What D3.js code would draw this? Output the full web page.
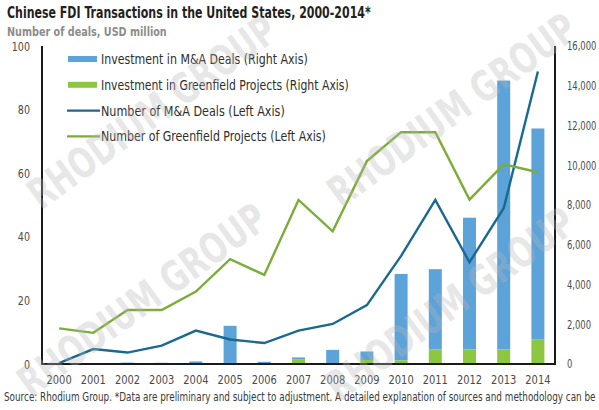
<!DOCTYPE html>
<html>
<head>
<meta charset="utf-8">
<script src="https://cdn.jsdelivr.net/npm/d3@7"></script>
<style>
  html, body { margin: 0; padding: 0; background: #fff; }
  svg { display: block; }
  text { font-family: 'Liberation Sans Narrow', 'Arial Narrow', 'DejaVu Sans Condensed', sans-serif; }
</style>
</head>
<body>
<svg id="chart" width="599" height="410"></svg>
<script>
// ---- Data ----
const years = ["2000","2001","2002","2003","2004","2005","2006","2007","2008","2009","2010","2011","2012","2013","2014"];
const maInvestment = [10, 10, 50, 40, 110, 1880, 80, 110, 680, 430, 4350, 4030, 6620, 13520, 10600];
const greenfieldInvestment = [10, 10, 20, 20, 20, 40, 30, 220, 30, 200, 180, 740, 740, 740, 1250];
const maDeals = [0.3, 4.7, 3.6, 5.8, 10.5, 7.7, 6.6, 10.5, 12.6, 18.5, 34, 51.6, 32, 49, 92];
const greenfieldProjects = [11.2, 9.8, 17, 17, 22.8, 33, 28, 51.6, 41.7, 63.8, 72.9, 72.9, 51.7, 62.8, 60.3];
const leftTicks = [0, 20, 40, 60, 80, 100];
const rightTicks = [0, 2000, 4000, 6000, 8000, 10000, 12000, 14000, 16000];
const legendItems = [
  { label: "Investment in M&A Deals (Right Axis)", type: "bar", key: "ma" },
  { label: "Investment in Greenfield Projects (Right Axis)", type: "bar", key: "gf" },
  { label: "Number of M&A Deals (Left Axis)", type: "line", key: "maLine" },
  { label: "Number of Greenfield Projects (Left Axis)", type: "line", key: "gfLine" }
];
const titleText = "Chinese FDI Transactions in the United States, 2000-2014*";
const subtitleText = "Number of deals, USD million";
const sourceText = "Source: Rhodium Group. *Data are preliminary and subject to adjustment. A detailed explanation of sources and methodology can be";
const watermarkText = "RHODIUM GROUP";

// ---- Styles ----
const colors = {
  ma: "#5ba3d9",
  gf: "#8dc640",
  maLine: "#1b6890",
  gfLine: "#7cac3a"
};

const svg = d3.select("#chart");
const plot = { left: 42, right: 555, top: 46, bottom: 364 };

const x = d3.scaleBand().domain(years).range([plot.left, plot.right]).paddingInner(0.62).paddingOuter(0.31);
const yL = d3.scaleLinear().domain([0, 100]).range([plot.bottom, plot.top]);
const yR = d3.scaleLinear().domain([0, 16000]).range([plot.bottom, plot.top]);
const cx = d => x(d) + x.bandwidth() / 2;

// Fit a text to a target width: shrink the font so its natural width matches,
// then stretch vertically back to the intended glyph height.
function fitText(node, fontSize, targetWidth, baseTransform) {
  const t = d3.select(node).attr("font-size", fontSize);
  const w = node.getComputedTextLength();
  const fs = fontSize * targetWidth / w;
  t.attr("font-size", fs)
   .attr("transform", `${baseTransform} scale(1,${fontSize / fs})`);
}

function addText(px, py, str, fontSize, width, attrs, extra) {
  const t = svg.append("text").attr("x", 0).attr("y", 0).text(str);
  Object.entries(attrs).forEach(([k, v]) => t.attr(k, v));
  fitText(t.node(), fontSize, width, `translate(${px},${py})${extra || ""}`);
  return t;
}

// Title & subtitle
addText(7, 18, titleText, 15.5, 364, { "font-weight": "bold", fill: "#231f20" });
addText(7, 36, subtitleText, 13, 160, { "font-weight": "bold", fill: "#8c8c8c" });

// Bars (stacked: greenfield bottom, M&A on top)
const barG = svg.append("g");
years.forEach((yr, i) => {
  const g0 = greenfieldInvestment[i];
  const m = maInvestment[i];
  barG.append("rect")
    .attr("x", x(yr)).attr("width", x.bandwidth())
    .attr("y", yR(g0 + m)).attr("height", yR(g0) - yR(g0 + m))
    .attr("fill", colors.ma);
  barG.append("rect")
    .attr("x", x(yr)).attr("width", x.bandwidth())
    .attr("y", yR(g0)).attr("height", yR(0) - yR(g0))
    .attr("fill", colors.gf);
});

// Lines
const lineGen = d3.line().x((d, i) => cx(years[i])).y(d => yL(d));
svg.append("path").datum(maDeals).attr("d", lineGen)
  .attr("fill", "none").attr("stroke", colors.maLine).attr("stroke-width", 2.4).attr("stroke-linejoin", "miter");
svg.append("path").datum(greenfieldProjects).attr("d", lineGen)
  .attr("fill", "none").attr("stroke", colors.gfLine).attr("stroke-width", 2.4).attr("stroke-linejoin", "miter");

// Axes
const leftAxis = d3.axisLeft(yL).tickValues(leftTicks).tickSize(0).tickPadding(12).tickFormat(d3.format("d"));
const gL = svg.append("g").attr("transform", `translate(${plot.left},0)`).call(leftAxis);
const rightAxis = d3.axisRight(yR).tickValues(rightTicks).tickSize(0).tickPadding(12).tickFormat(d3.format(","));
const gR = svg.append("g").attr("transform", `translate(${plot.right},0)`).call(rightAxis);
const bottomAxis = d3.axisBottom(x).tickSize(0).tickPadding(11);
const gB = svg.append("g").attr("transform", `translate(0,${plot.bottom})`).call(bottomAxis);
[gL, gR, gB].forEach(g => {
  g.select(".domain").remove();
  g.selectAll("text").attr("font-size", 12.5).attr("fill", "#4a4a4a")
    .attr("font-family", "'Liberation Sans Narrow', 'Arial Narrow', 'DejaVu Sans Condensed', sans-serif");
});
gL.selectAll("text").attr("x", 0).attr("transform", "translate(-12,0) scale(0.85,1)");
gB.selectAll("text").attr("y", 0).attr("transform", "translate(0,11) scale(0.88,1)");
gR.selectAll("text").attr("font-size", 12).attr("x", 0)
  .attr("transform", "translate(12,0) scale(0.78,1)");

// axis frame lines
svg.append("line").attr("x1", plot.left).attr("x2", plot.left).attr("y1", plot.top).attr("y2", plot.bottom + 1)
  .attr("stroke", "#1a1a1a").attr("stroke-width", 2);
svg.append("line").attr("x1", plot.right).attr("x2", plot.right).attr("y1", plot.top).attr("y2", plot.bottom + 1)
  .attr("stroke", "#1a1a1a").attr("stroke-width", 2);
svg.append("line").attr("x1", plot.left - 1).attr("x2", plot.right + 1).attr("y1", plot.bottom).attr("y2", plot.bottom)
  .attr("stroke", "#1a1a1a").attr("stroke-width", 2);

// Legend
const legendWidths = [207, 248, 184, 225];
const lg = svg.append("g");
legendItems.forEach((it, i) => {
  const yy = 59 + i * 25.8;
  if (it.type === "bar") {
    lg.append("rect").attr("x", 68).attr("y", yy - 3).attr("width", 29).attr("height", 6).attr("fill", colors[it.key]);
  } else {
    lg.append("line").attr("x1", 67).attr("x2", 100).attr("y1", yy).attr("y2", yy)
      .attr("stroke", colors[it.key]).attr("stroke-width", 2.4);
  }
  addText(101, yy + 5, it.label, 14.5, legendWidths[i], { fill: "#2e2e2e" });
});

// Source
addText(4, 401, sourceText, 12.5, 592, { fill: "#3a3a3a" });

// Watermarks
const marks = [ [152, 112], [452, 110], [142, 300], [450, 304] ];
marks.forEach(([mx, my]) => {
  const t = svg.append("text").attr("x", 0).attr("y", 0).attr("dy", "0.35em")
    .attr("text-anchor", "middle")
    .attr("font-weight", "bold").attr("fill", "#b8b8b8").attr("opacity", 0.33)
    .text(watermarkText);
  fitText(t.node(), 42, 296, `translate(${mx},${my}) rotate(-36)`);
});
</script>
</body>
</html>
